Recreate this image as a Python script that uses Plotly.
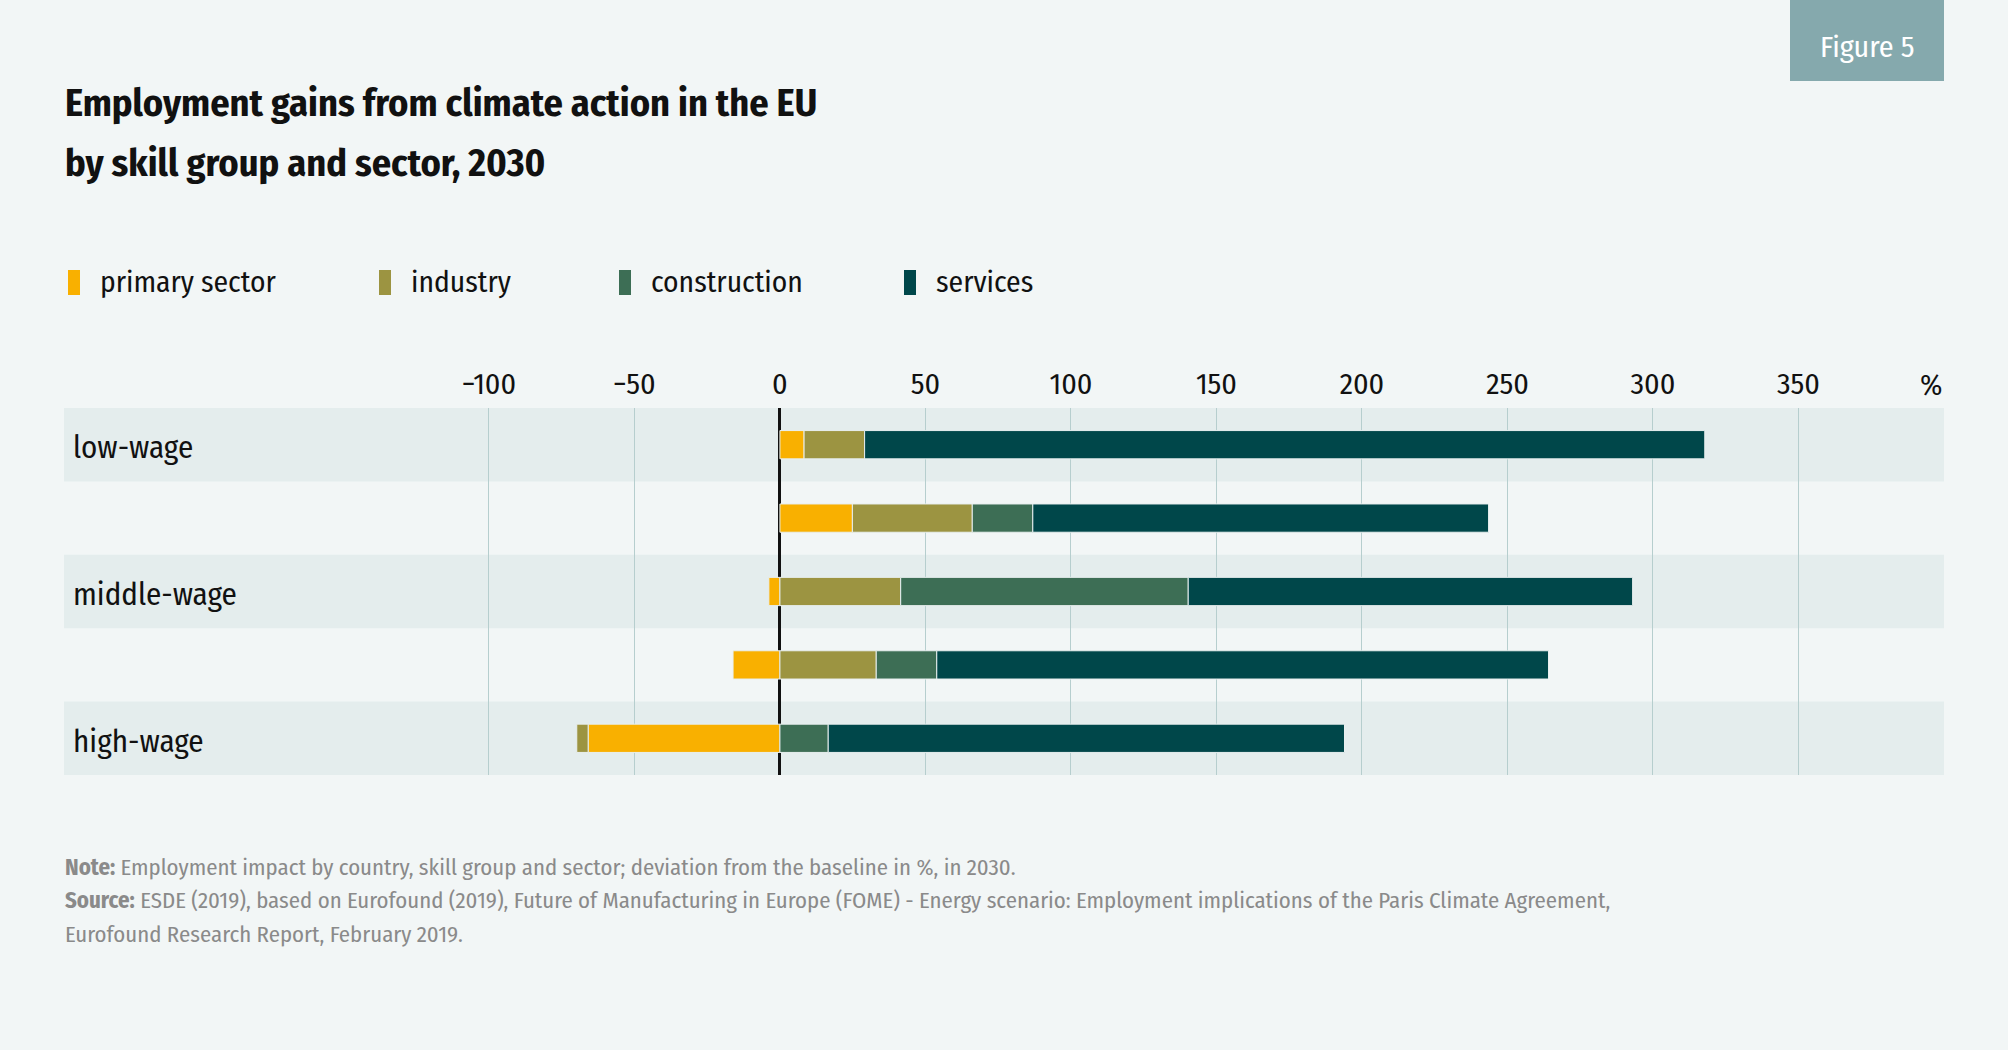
import plotly.graph_objects as go

# ---------------- data ----------------
row_labels = ["low-wage", "", "middle-wage", "", "high-wage"]
sectors = ["primary sector", "industry", "construction", "services"]
primary = [8.3, 24.9, -3.8, -16.1, -65.9]
industry = [20.8, 41.2, 41.5, 33.1, -3.9]
construction = [0.0, 20.8, 98.8, 20.8, 16.6]
services = [288.7, 156.6, 152.7, 210.2, 177.4]
series_values = [primary, industry, construction, services]
tick_values = [-100, -50, 0, 50, 100, 150, 200, 250, 300, 350]
tick_labels = ["\u2212100", "\u221250", "0", "50", "100", "150", "200", "250", "300", "350"]

title_lines = ["Employment gains from climate action in the EU",
               "by skill group and sector, 2030"]
note_lines = [
    "<b>Note:</b> Employment impact by country, skill group and sector; deviation from the baseline in %, in 2030.",
    "<b>Source:</b> ESDE (2019), based on Eurofound (2019), Future of Manufacturing in Europe (FOME) - Energy scenario: Employment implications of the Paris Climate Agreement,",
    "Eurofound Research Report, February 2019.",
]

# ---------------- style ----------------
colors = ["#f9b000", "#9c9441", "#3d6e55", "#00474a"]
BG = "#f2f6f6"
BAND = "#e4eded"
GRID = "#b6cece"
FONT = "'Fira Sans Condensed', 'Roboto Condensed', 'DejaVu Sans Condensed', sans-serif"

W, H = 2008, 1050
L, R, T, B = 64, 1944, 408, 775   # plot area in pixels


def px_x(px):
    return (px - L) / (R - L)


def px_y(py):
    return (B - py) / (B - T)


y_pos = list(range(len(row_labels)))

fig = go.Figure()
for name, vals, col in zip(sectors, series_values, colors):
    fig.add_trace(go.Bar(
        y=y_pos, x=vals, name=name, orientation="h",
        marker=dict(color=col, line=dict(color="#e8efef", width=1)),
        width=0.385, showlegend=False,
    ))

shapes = []
# alternating row bands
for i in y_pos:
    if i % 2 == 0:
        shapes.append(dict(type="rect", xref="paper", yref="y", x0=0, x1=1,
                           y0=i - 0.5, y1=i + 0.5, fillcolor=BAND,
                           line=dict(width=0), layer="below"))

# Figure 5 box
shapes.append(dict(type="rect", xref="paper", yref="paper",
                   x0=px_x(1790), x1=px_x(1944), y0=px_y(81), y1=px_y(0),
                   fillcolor="#85a9ad", line=dict(width=0), layer="above"))

annotations = []
annotations.append(dict(text="Figure 5", xref="paper", yref="paper",
                        x=px_x(1867), y=px_y(47), xanchor="center", yanchor="middle",
                        showarrow=False, font=dict(family=FONT, size=30, color="white")))

# title
for txt, py in zip(title_lines, [103, 163]):
    annotations.append(dict(text="<b>%s</b>" % txt, xref="paper", yref="paper",
                            x=px_x(63), y=px_y(py), xanchor="left", yanchor="middle",
                            showarrow=False, font=dict(family=FONT, size=38.2, color="#111111")))

# legend (manual)
legend_x = [68, 379, 619, 904]
for name, col, lx in zip(sectors, colors, legend_x):
    shapes.append(dict(type="rect", xref="paper", yref="paper",
                       x0=px_x(lx), x1=px_x(lx + 12), y0=px_y(295), y1=px_y(270),
                       fillcolor=col, line=dict(width=0)))
    annotations.append(dict(text=name, xref="paper", yref="paper",
                            x=px_x(lx + 30), y=px_y(282), xanchor="left", yanchor="middle",
                            showarrow=False, font=dict(family=FONT, size=29.5, color="#111111")))

# row labels
for i, lab in zip(y_pos, row_labels):
    if lab:
        annotations.append(dict(text=lab, xref="paper", yref="y", x=0, y=i,
                                xanchor="left", yanchor="middle", xshift=7, yshift=-3,
                                showarrow=False, font=dict(family=FONT, size=31, color="#111111")))

# % unit
annotations.append(dict(text="%", xref="paper", yref="paper", x=1, y=px_y(385),
                        xanchor="right", yanchor="middle", showarrow=False,
                        font=dict(family=FONT, size=30, color="#111111")))

# notes
for txt, py in zip(note_lines, [867, 900, 934]):
    annotations.append(dict(text=txt, xref="paper", yref="paper",
                            x=px_x(63), y=px_y(py), xanchor="left", yanchor="middle",
                            showarrow=False, font=dict(family=FONT, size=22.8, color="#8a8a8a")))

fig.update_layout(
    width=W, height=H,
    margin=dict(l=L, r=W - R, t=T, b=H - B, pad=0),
    paper_bgcolor=BG, plot_bgcolor="rgba(0,0,0,0)",
    barmode="relative", bargap=0.6,
    shapes=shapes, annotations=annotations,
    font=dict(family=FONT, color="#111111"),
    xaxis=dict(range=[-246, 400], side="top", tickvals=tick_values, ticktext=tick_labels,
               showgrid=True, gridcolor=GRID, gridwidth=1.3,
               zeroline=True, zerolinecolor="#111111", zerolinewidth=2.5,
               ticks="outside", ticklen=1, tickcolor="rgba(0,0,0,0)",
               tickfont=dict(family=FONT, size=30, color="#111111"),
               showline=False, fixedrange=True),
    yaxis=dict(range=[len(row_labels) - 0.5, -0.5], showticklabels=False,
               showgrid=False, zeroline=False, showline=False, fixedrange=True),
)

fig.write_html("out.html", config={"displayModeBar": False},
               post_script="document.body.style.margin='0';document.body.style.background='%s';" % BG)
